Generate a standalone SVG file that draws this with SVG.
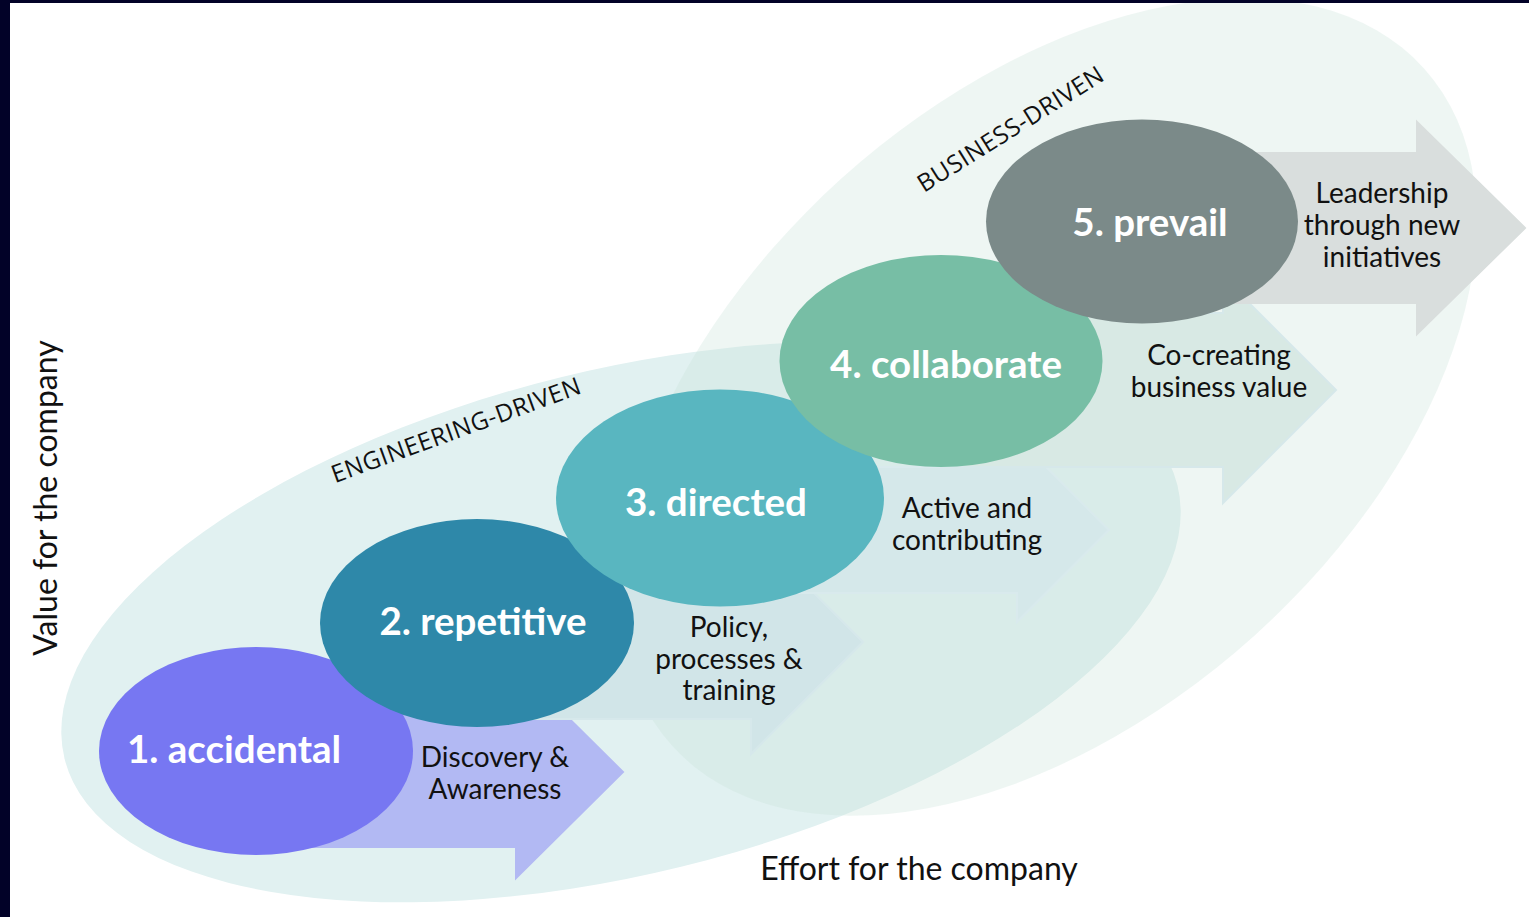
<svg xmlns="http://www.w3.org/2000/svg" width="1529" height="917" viewBox="0 0 1529 917">
  <style>
    .node-label { font-family: Lato, "Open Sans", "DejaVu Sans", sans-serif; font-weight: 700; font-size: 38.5px; fill: #ffffff; text-anchor: middle; }
    .arrow-label { font-family: Lato, "Open Sans", "DejaVu Sans", sans-serif; font-size: 28px; fill: #111111; text-anchor: middle; }
    .zone-label { font-family: "Open Sans", Lato, "DejaVu Sans", sans-serif; font-size: 24.5px; fill: #111111; text-anchor: middle; letter-spacing: 0.5px; }
    .axis-label { font-family: Lato, "Open Sans", "DejaVu Sans", sans-serif; font-size: 32px; fill: #111111; text-anchor: middle; }
    .arrow { stroke-width: 2; }
  </style>

  <rect x="0" y="0" width="1529" height="917" fill="#ffffff"/>

  <g id="zones">
    <ellipse id="engineering-zone" cx="621" cy="622" rx="573" ry="252" transform="rotate(-13.8 621 622)" fill="#e1f1f1"/>
    <ellipse id="business-zone" cx="1048" cy="407" rx="506" ry="308" transform="rotate(-42 1048 407)" fill="#c6e1d7" fill-opacity="0.3"/>
    <text class="zone-label" transform="translate(459 438) rotate(-20)">ENGINEERING-DRIVEN</text>
    <text class="zone-label" transform="translate(1015 136) rotate(-32)">BUSINESS-DRIVEN</text>
  </g>

  <g id="connectors">
    <g id="arrow1">
      <path class="arrow" d="M256,697 L516,697 L516,666 L623,772 L516,878 L516,847 L256,847 Z" fill="#b2b9f3" stroke="#b2b9f3"/>
      <text class="arrow-label" x="495" y="767">Discovery &amp;</text>
      <text class="arrow-label" x="495" y="799">Awareness</text>
    </g>
    <g id="arrow2">
      <path class="arrow" d="M477,565 L751,565 L751,530 L863,642 L751,754 L751,719 L477,719 Z" fill="#d1e5e8" stroke="#d6e8eb"/>
      <text class="arrow-label" x="729" y="637">Policy,</text>
      <text class="arrow-label" x="729" y="669">processes &amp;</text>
      <text class="arrow-label" x="729" y="700">training</text>
    </g>
    <g id="arrow3">
      <path class="arrow" d="M720,467 L1017,467 L1017,438 L1109,530 L1017,622 L1017,593 L720,593 Z" fill="#d5e8ea" stroke="#d9eaed"/>
      <text class="arrow-label" x="967" y="518">Active and</text>
      <text class="arrow-label" x="967" y="550">contributing</text>
    </g>
    <g id="arrow4">
      <path class="arrow" d="M941,313 L1223,313 L1223,277 L1336,390 L1223,503 L1223,467 L941,467 Z" fill="#d8e9e4" stroke="#d6e8ea"/>
      <text class="arrow-label" x="1219" y="365">Co-creating</text>
      <text class="arrow-label" x="1219" y="397">business value</text>
    </g>
    <g id="arrow5">
      <path class="arrow" d="M1142,153 L1417,153 L1417,122 L1525,228 L1417,334 L1417,303 L1142,303 Z" fill="#d9dedd" stroke="#d9dedd"/>
      <text class="arrow-label" x="1382" y="203">Leadership</text>
      <text class="arrow-label" x="1382" y="235">through new</text>
      <text class="arrow-label" x="1382" y="267">initiatives</text>
    </g>
  </g>

  <g id="node1">
    <ellipse cx="256" cy="751" rx="157" ry="104" fill="#7777f2"/>
    <text class="node-label" x="234" y="763">1. accidental</text>
  </g>
  <g id="node2">
    <ellipse cx="477" cy="623" rx="157" ry="104" fill="#2e88a9"/>
    <text class="node-label" x="483" y="635">2. repetitive</text>
  </g>
  <g id="node3">
    <ellipse cx="720" cy="498" rx="164" ry="108.5" fill="#59b6c0"/>
    <text class="node-label" x="716" y="516">3. directed</text>
  </g>
  <g id="node4">
    <ellipse cx="941" cy="361" rx="161.5" ry="106" fill="#77bea5"/>
    <text class="node-label" x="946" y="378">4. collaborate</text>
  </g>
  <g id="node5">
    <ellipse cx="1142" cy="221.5" rx="156" ry="102" fill="#7b8a89"/>
    <text class="node-label" x="1150" y="236">5. prevail</text>
  </g>

  <g id="axes">
    <text class="axis-label" x="919" y="880">Effort for the company</text>
    <text class="axis-label" transform="translate(57 498) rotate(-90)">Value for the company</text>
  </g>

  <g id="frame">
    <rect x="0" y="0" width="1529" height="3" fill="#020228"/>
    <rect x="0" y="0" width="10" height="917" fill="#020228"/>
  </g>
</svg>
